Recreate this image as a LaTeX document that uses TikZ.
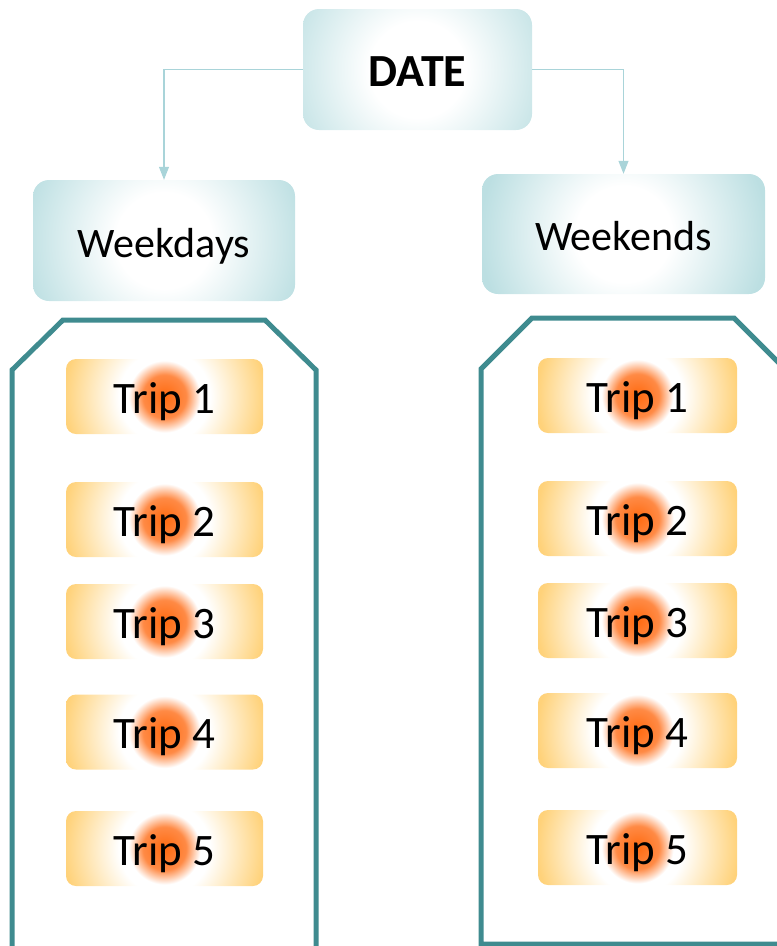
\documentclass[tikz,border=0pt]{standalone}
\usepackage{fontspec}
\setmainfont{Carlito}
\usetikzlibrary{arrows.meta}
\definecolor{boxteal}{HTML}{BCDFE2}
\definecolor{linkteal}{HTML}{A9D4D9}
\definecolor{frameteal}{HTML}{3F8B8F}
\definecolor{tripgold}{HTML}{FFD27A}
\definecolor{tripor}{HTML}{FF6A10}
\definecolor{tripmid}{HTML}{FF8A45}
\pgfdeclareradialshading{tealglow}{\pgfpoint{0bp}{0bp}}{color(0bp)=(white); color(8bp)=(white); color(24bp)=(boxteal); color(50bp)=(boxteal)}
\pgfdeclareradialshading{tripglow}{\pgfpoint{0bp}{0bp}}{color(0bp)=(tripor); color(4.5bp)=(tripmid); color(7.5bp)=(white); color(9.5bp)=(white); color(21bp)=(tripgold); color(50bp)=(tripgold)}
\begin{document}
\begin{tikzpicture}[x=1pt, y=-1pt,
    tealbox/.style={rounded corners=16pt, minimum width=#1, minimum height=121pt, inner sep=0pt,
      text height=38pt, text depth=5pt,
      path picture={\shade[shading=tealglow] (path picture bounding box.center) circle (150pt);}},
    tripbox/.style={rounded corners=10pt, minimum width=#1, minimum height=75pt, inner sep=0pt,
      text height=38pt, text depth=5pt, font=\fontsize{45}{54}\selectfont,
      path picture={\shade[shading=tripglow] (path picture bounding box.center) circle (120pt);}},
    frame/.style={frameteal, line width=5pt},
    link/.style={linkteal, line width=1.2pt, -{Triangle[width=10pt,length=13pt]}}]
    \clip (0,0) rectangle (777,946);
    % the two frames
    \draw [frame] (12,960) -- (12,370) -- (63,320) -- (265,320) -- (316,370) -- (316,960);
    \draw [frame] (481,944) -- (481,369) -- (532,318) -- (734,318) -- (785,369) -- (785,944) -- cycle;
    \node [tealbox=229pt, font=\fontsize{46}{55}\selectfont\bfseries] (date) at (417.5,69.5) {DATE};
    \node [tealbox=262pt, font=\fontsize{42}{50}\selectfont] (weekdays) at (164,240.5) {Weekdays};
    \node [tealbox=283pt, minimum height=120pt, font=\fontsize{42}{50}\selectfont] (weekends) at (623.5,234) {Weekends};
    \draw [link] (date.west) -| (weekdays.north);
    \draw [link] (date.east) -| (weekends.north);
    % weekday trips
    \node [tripbox=197pt] (wd1) at (164.5,396.5) {Trip 1};
    \node [tripbox=197pt] (wd2) at (164.5,519.5) {Trip 2};
    \node [tripbox=197pt] (wd3) at (164.5,621.5) {Trip 3};
    \node [tripbox=197pt] (wd4) at (164.5,732) {Trip 4};
    \node [tripbox=197pt] (wd5) at (164.5,848.5) {Trip 5};
    % weekend trips
    \node [tripbox=199pt] (we1) at (637.5,395.5) {Trip 1};
    \node [tripbox=199pt] (we2) at (637.5,518.5) {Trip 2};
    \node [tripbox=199pt] (we3) at (637.5,620.5) {Trip 3};
    \node [tripbox=199pt] (we4) at (637.5,730.5) {Trip 4};
    \node [tripbox=199pt] (we5) at (637.5,847.5) {Trip 5};
\end{tikzpicture}
\end{document}
